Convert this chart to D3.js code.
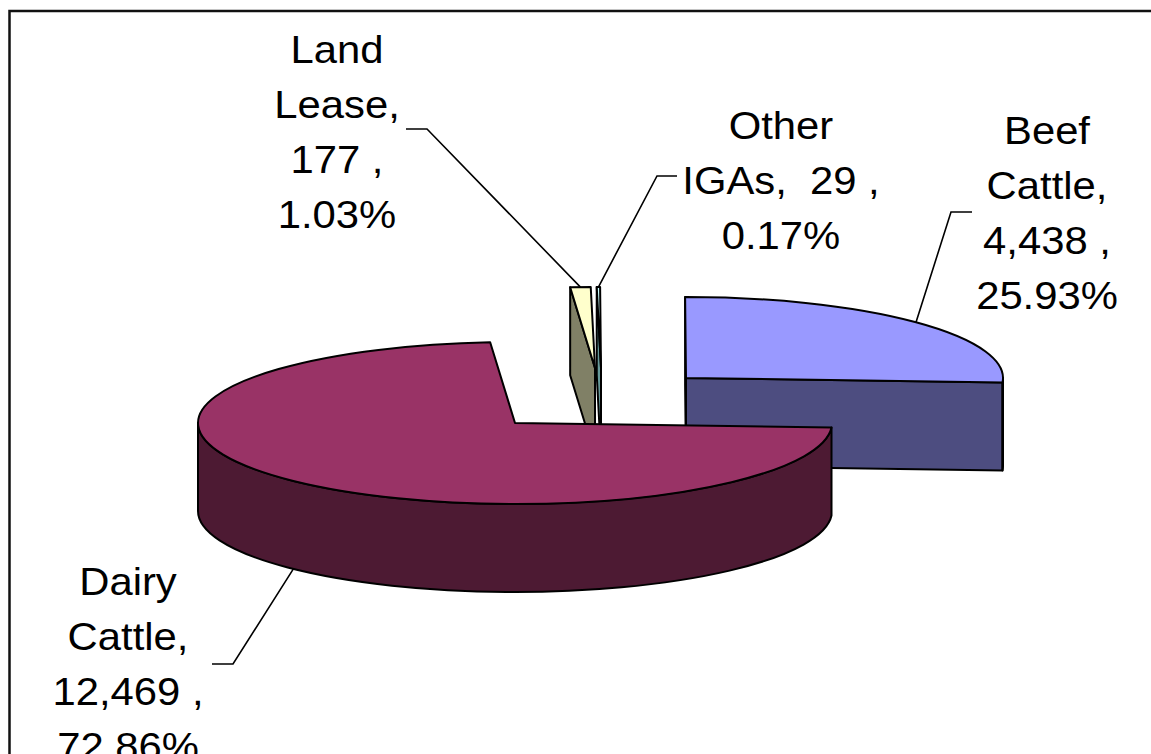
<!DOCTYPE html>
<html>
<head>
<meta charset="utf-8">
<script src="https://cdn.jsdelivr.net/npm/d3@7"></script>
<style>
  body { margin: 0; background: #fff; }
  svg { display: block; }
  text { font-family: "Liberation Sans", Arial, sans-serif; fill: #000; }
</style>
</head>
<body>
<script>
// chart data (order as the slices go round the pie)
var categories = ["Dairy Cattle", "Land Lease", "Other IGAs", "Beef Cattle"];
var values = [12469, 177, 29, 4438];
var percents = ["72.86%", "1.03%", "0.17%", "25.93%"];
var labelText = [
  ["Dairy", "Cattle,", "12,469 ,", "72.86%"],
  ["Land", "Lease,", "177 ,", "1.03%"],
  ["Other", "IGAs,  29 ,", "0.17%"],
  ["Beef", "Cattle,", "4,438 ,", "25.93%"]
];
var topColors = ["#993366", "#FFFFCC", "#CCFFFF", "#9999FF"];
var sideColors = ["#4D1A33", "#808066", "#669999", "#4D4D80"];

// layout
var width = 1151, height = 754;
var cx = 515, cy = 423, rx = 317, ry = 81, depth = 88;
var explode = [[0, 0], [80, -55], [86, -55], [171, -45]];
var labelPos = [
  { x: 128, y: 595, lx: 212, ex: 233, ey: 664 },
  { x: 337, y: 63, lx: 406, ex: 427, ey: 129 },
  { x: 781, y: 139, lx: 677, ex: 657, ey: 176 },
  { x: 1047, y: 144, lx: 972, ex: 951, ey: 212 }
];
var lineGap = 55;

var svg = d3.select("body").append("svg")
  .attr("width", width)
  .attr("height", height);

svg.append("rect")
  .attr("width", width).attr("height", height)
  .attr("fill", "#fff");

var start = 93.2 * Math.PI / 180;
var pie = d3.pie().sort(null).value(function(d) { return d.value; })
  .startAngle(start).endAngle(start + 2 * Math.PI);

var rows = categories.map(function(c, i) {
  return { name: c, value: values[i], pct: percents[i], i: i };
});
var arcs = pie(rows);

function pt(c, t, dz) {
  return [c[0] + rx * Math.cos(t), c[1] + ry * Math.sin(t) + (dz || 0)];
}

var slices = arcs.map(function(a) {
  var i = a.data.i;
  var t0 = a.startAngle - Math.PI / 2, t1 = a.endAngle - Math.PI / 2;
  var c = [cx + explode[i][0], cy + explode[i][1]];
  var mid = (t0 + t1) / 2;
  return { i: i, t0: t0, t1: t1, c: c, mid: mid, key: c[1] + ry * Math.sin(mid) };
});

// back slices first
var order = slices.slice().sort(function(a, b) { return a.key - b.key; });

var g = svg.append("g");

order.forEach(function(s) {
  var c = s.c, t0 = s.t0, t1 = s.t1;
  var sg = g.append("g");
  var faces = [];

  // radial faces that look at the viewer
  if (Math.cos(t0) < 0) faces.push(t0);
  if (Math.cos(t1) > 0) faces.push(t1);
  faces.forEach(function(t) {
    var p = pt(c, t), p2 = pt(c, t, depth);
    var path = d3.path();
    path.moveTo(c[0], c[1]);
    path.lineTo(p[0], p[1]);
    path.lineTo(p2[0], p2[1]);
    path.lineTo(c[0], c[1] + depth);
    path.closePath();
    sg.append("path").attr("d", path.toString())
      .attr("fill", sideColors[s.i]);
  });

  // outer wall on the front half
  for (var k = -1; k <= 2; k++) {
    var lo = Math.max(t0, 2 * k * Math.PI), hi = Math.min(t1, 2 * k * Math.PI + Math.PI);
    if (hi - lo > 0.0001) {
      var a = pt(c, lo), b = pt(c, hi), b2 = pt(c, hi, depth), a2 = pt(c, lo, depth);
      var d = "M" + a + " A" + rx + "," + ry + " 0 0 1 " + b +
        " L" + b2 + " A" + rx + "," + ry + " 0 0 0 " + a2 + " Z";
      sg.append("path").attr("d", d).attr("fill", sideColors[s.i]);
    }
  }

  // top face
  var p0 = pt(c, t0), p1 = pt(c, t1);
  var large = (t1 - t0) > Math.PI ? 1 : 0;
  var top = "M" + c + " L" + p0 + " A" + rx + "," + ry + " 0 " + large + " 1 " + p1 + " Z";
  sg.append("path").attr("d", top).attr("fill", topColors[s.i]);

  sg.selectAll("path")
    .attr("stroke", "#000")
    .attr("stroke-width", 2)
    .attr("stroke-linejoin", "round");
});

// leader lines and labels
slices.forEach(function(s) {
  var lp = labelPos[s.i];
  var front = Math.sin(s.mid) > 0;
  var anchor = pt(s.c, s.mid, front ? depth : 0);
  svg.append("polyline")
    .attr("points", [[lp.lx, lp.ey], [lp.ex, lp.ey], anchor].join(" "))
    .attr("fill", "none")
    .attr("stroke", "#000")
    .attr("stroke-width", 1.6);

  var lines = labelText[s.i];
  lines.forEach(function(line, j) {
    svg.append("text")
      .attr("transform", "translate(" + lp.x + "," + (lp.y + j * lineGap) + ") scale(1.1,1)")
      .attr("text-anchor", "middle")
      .attr("font-size", "38px")
      .style("white-space", "pre")
      .text(line);
  });
});

// chart frame (runs off the right and bottom edges)
svg.append("rect")
  .attr("x", 9.5).attr("y", 11)
  .attr("width", 1300).attr("height", 900)
  .attr("fill", "none")
  .attr("stroke", "#111")
  .attr("stroke-width", 2.5);
</script>
</body>
</html>
